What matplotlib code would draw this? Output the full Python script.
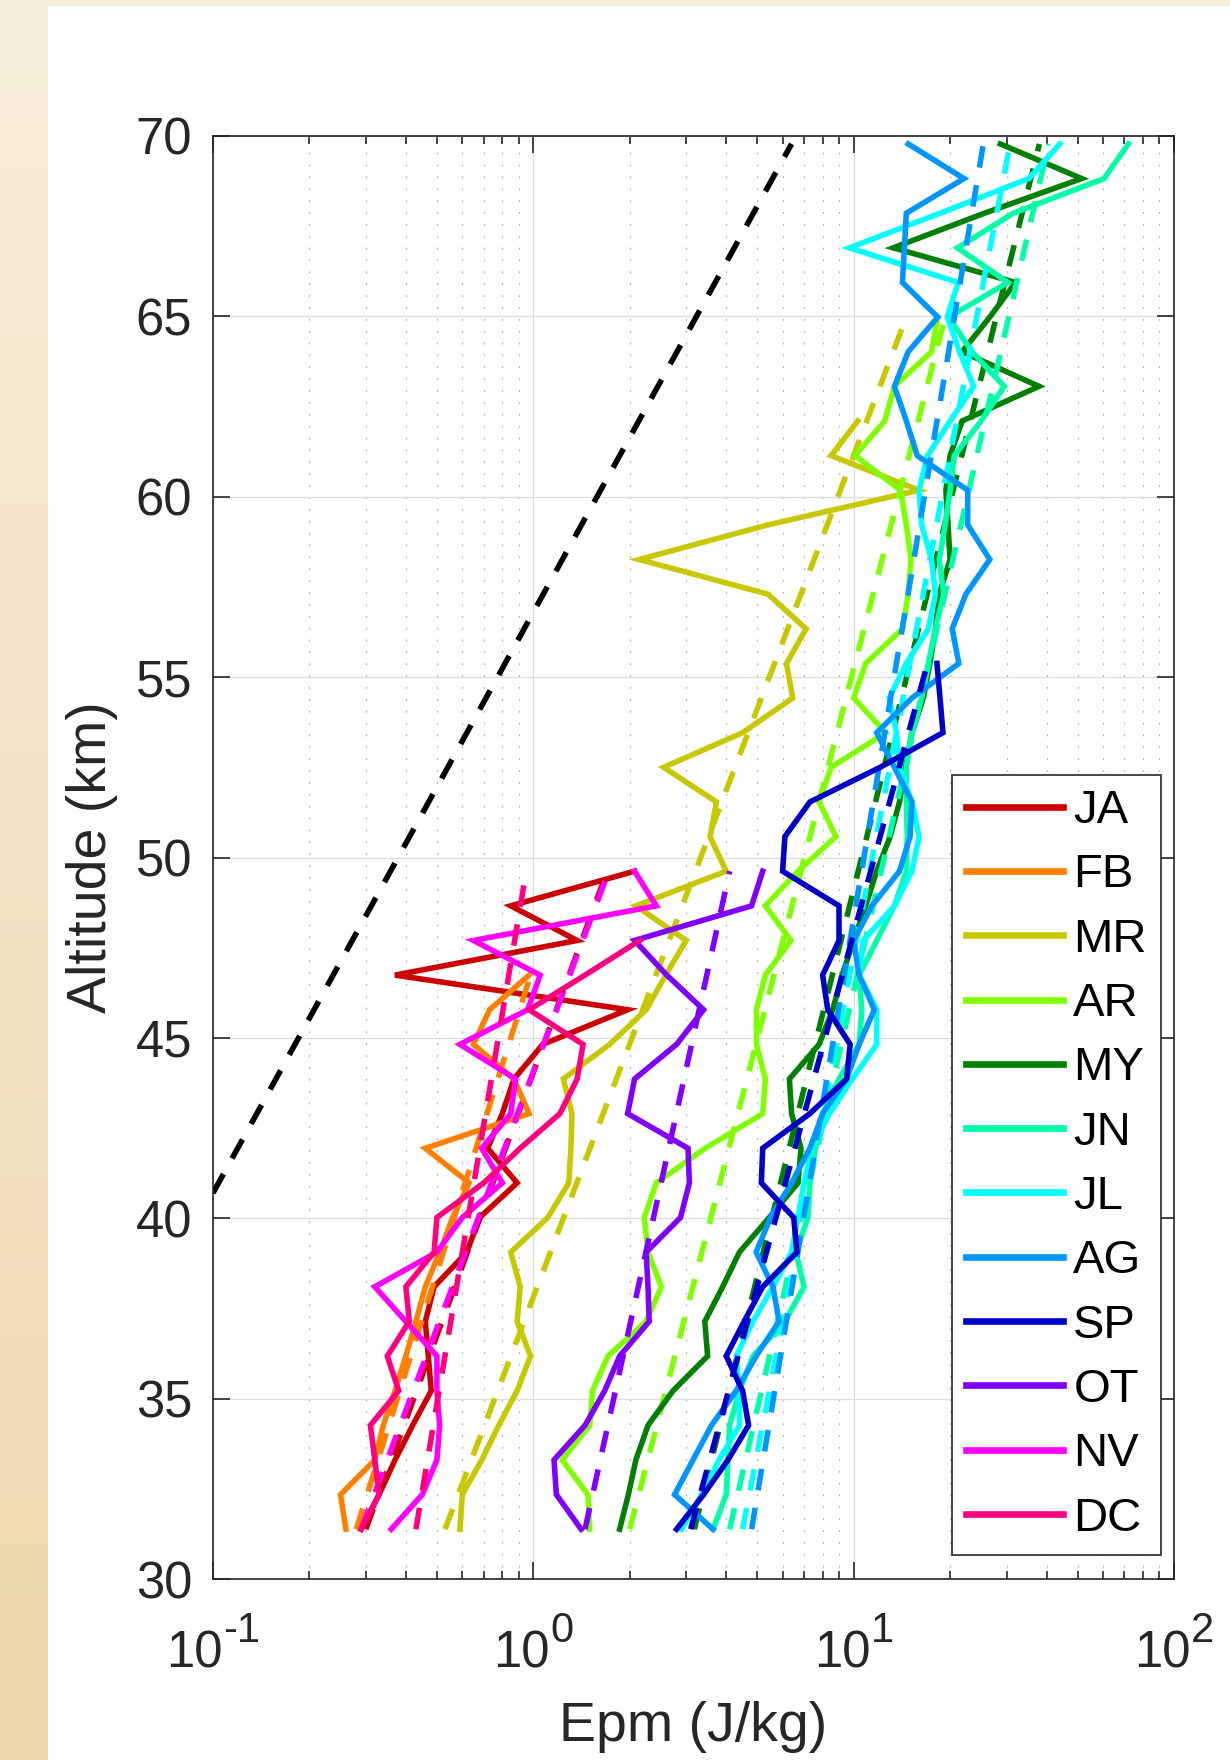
import numpy as np
import matplotlib
matplotlib.use("Agg")
import matplotlib.pyplot as plt
import matplotlib.transforms as mtransforms
from matplotlib.colors import LinearSegmentedColormap
from matplotlib.patches import Rectangle
from matplotlib.ticker import LogLocator, NullFormatter

plt.rcParams['font.family'] = ['Liberation Sans', 'DejaVu Sans']

# altitude levels of the monthly profiles (km)
alt_km = [31.38, 32.34, 33.30, 34.26, 35.22, 36.18, 37.14, 38.10, 39.06, 40.02,
          40.98, 41.94, 42.90, 43.86, 44.82, 45.78, 46.74, 47.70, 48.66, 49.62,
          50.58, 51.54, 52.50, 53.46, 54.42, 55.38, 56.34, 57.30, 58.26, 59.22,
          60.18, 61.14, 62.10, 63.06, 64.02, 64.98, 65.94, 66.90, 67.86, 68.82,
          69.78]

# monthly mean Epm profiles (J/kg), from the lowest level upwards
ja_epm = [0.29, 0.33, 0.37, 0.42, 0.48, 0.47, 0.46, 0.49, 0.62, 0.68, 0.89, 0.72,
          0.80, 0.87, 1.07, 1.97, 0.37, 1.37, 0.85, 2.07]
fb_epm = [0.26, 0.25, 0.32, 0.34, 0.37, 0.40, 0.43, 0.46, 0.51, 0.56, 0.63, 0.46,
          0.97, 0.87, 0.65, 0.73, 0.97]
mr_epm = [0.59, 0.60, 0.69, 0.78, 0.89, 0.98, 0.89, 0.91, 0.85, 1.11, 1.29, 1.31,
          1.32, 1.24, 1.73, 2.25, 2.59, 3.00, 2.09, 4.0, 3.56, 3.73, 2.55, 4.5,
          6.45, 6.17, 7.1, 5.4, 2.14, 5.4, 16.0, 8.5, 10.3]
ar_epm = [1.50, 1.48, 1.23, 1.50, 1.53, 1.71, 2.25, 2.51, 2.28, 2.22, 2.42, 3.44,
          5.2, 5.3, 4.97, 4.97, 5.3, 6.37, 5.3, 6.7, 8.8, 7.8, 8.5, 12.6, 10.0,
          10.9, 14.2, 14.8, 15.1, 14.6, 14.0, 10.1, 12.5, 13.4, 17.5, 18.3]
my_epm = [1.86, 1.98, 2.09, 2.28, 2.73, 3.5, 3.43, 3.9, 4.4, 5.45, 6.7, 6.85, 6.4,
          6.3, 7.8, 8.6, 9.2, 10.0, 10.9, 11.8, 13.0, 13.9, 14.5, 15.2, 16.5, 17.3,
          18.0, 18.5, 20.0, 19.7, 19.4, 20.0, 21.8, 37.9, 21.8, 26.6, 32.0, 13.3,
          25.6, 51.5, 28.7]
jn_epm = [3.64, 4.0, 4.05, 4.1, 4.4, 4.85, 6.1, 7.0, 6.6, 7.2, 7.3, 7.6, 8.0, 9.0,
          10.4, 10.6, 10.4, 11.8, 13.4, 14.6, 14.7, 14.6, 14.6, 15.2, 16.3, 17.1,
          18.0, 19.1, 18.5, 19.3, 20.0, 20.6, 25.0, 29.5, 23.4, 19.8, 30.3, 21.1,
          31.5, 60.5, 72.0]
jl_epm = [2.9, 3.35, 3.8, 4.4, 4.4, 4.3, 4.85, 5.6, 6.4, 6.7, 7.0, 7.4, 8.4, 9.9,
          11.8, 11.8, 10.4, 10.7, 13.4, 15.2, 16.0, 15.2, 13.9, 13.6, 12.9, 14.6,
          17.1, 18.0, 17.5, 16.3, 16.0, 17.0, 20.0, 23.7, 21.4, 19.6, 21.2, 9.7,
          18.6, 35.2, 44.0]
ag_epm = [3.64, 2.76, 3.15, 3.6, 4.3, 4.96, 5.85, 5.6, 4.96, 5.5, 6.4, 7.3, 8.0,
          9.5, 10.4, 11.6, 10.4, 10.0, 11.4, 13.9, 15.0, 15.2, 13.4, 11.8, 15.2,
          21.3, 20.3, 22.4, 26.6, 22.7, 22.7, 15.8, 14.6, 13.4, 14.8, 18.3, 14.2,
          14.4, 14.6, 22.1, 14.8]
sp_epm = [2.8, 3.4, 4.05, 4.7, 4.5, 4.0, 4.55, 5.2, 6.65, 6.5, 5.15, 5.2, 7.3, 9.5,
          9.75, 8.3, 8.0, 9.0, 9.0, 6.0, 6.1, 7.3, 12.1, 19.0, 18.6, 18.2]
ot_epm = [1.41, 1.18, 1.16, 1.45, 1.67, 1.86, 2.30, 2.28, 2.25, 2.88, 3.07, 3.04,
          1.97, 2.07, 2.8, 3.4, 2.61, 2.07, 4.8, 5.2]
nv_epm = [0.36, 0.45, 0.50, 0.51, 0.50, 0.50, 0.40, 0.32, 0.50, 0.60, 0.80, 0.69,
          0.85, 0.88, 0.59, 0.96, 1.05, 0.65, 2.42, 2.07]
dc_epm = [0.29, 0.33, 0.32, 0.31, 0.38, 0.35, 0.41, 0.40, 0.49, 0.50, 0.70, 0.91,
          1.21, 1.37, 1.43, 0.97, 1.45, 2.15]

months = ['JA', 'FB', 'MR', 'AR', 'MY', 'JN', 'JL', 'AG', 'SP', 'OT', 'NV', 'DC']
profiles = [ja_epm, fb_epm, mr_epm, ar_epm, my_epm, jn_epm, jl_epm, ag_epm,
            sp_epm, ot_epm, nv_epm, dc_epm]
colors = ['#cc0000', '#ff8000', '#c8c800', '#80ff00', '#008000', '#00ffa8',
          '#00ffff', '#0096ff', '#0000c8', '#8000ff', '#ff00ff', '#ff0080']

# exponential fits: Epm at the lowest level and at the top of each fit
fit_low = [0.30, 0.28, 0.53, 2.0, 3.18, 4.1, 4.5, 4.8, 3.1, 1.45, 0.29, 0.43]
fit_high = [1.70, 0.98, 14.6, 19.3, 38.0, 40.6, 30.8, 25.4, 17.0, 4.1, 1.72, 0.95]
fit_top_alt = [49.62, 46.74, 64.98, 64.98, 69.78, 69.78, 69.78, 69.78, 55.38,
               49.62, 49.62, 49.62]

# non-dissipative growth reference
ref_epm = [0.1, 6.4]
ref_alt = [40.70, 69.78]

# x tick decades and their exponent labels
x_decades = [0.1, 1, 10, 100]
x_exponents = ['-1', '0', '1', '2']

W, H = 1230, 1760
fig = plt.figure(figsize=(W / 100, H / 100), dpi=100)
fig.patch.set_facecolor('white')

# beige slide border on the left and top
bg = fig.add_axes([0, 0, 48 / W, 1])
grad = np.linspace(0, 1, 256).reshape(-1, 1)
bg.imshow(grad, aspect='auto',
          cmap=LinearSegmentedColormap.from_list('beige', ['#f6eddb', '#eed8ac']))
bg.axis('off')
fig.add_artist(Rectangle((0, 1 - 5 / H), 1, 5 / H, transform=fig.transFigure,
                         color='#f6eddb', zorder=0))

ax = fig.add_axes([213 / W, 181 / H, 961 / W, 1443 / H])
ax.set_xscale('log')

lw = 4.0
dash = (3.9, 3.2)
handles = []
for name, color, vals, lo, hi, top in zip(months, colors, profiles, fit_low,
                                          fit_high, fit_top_alt):
    h, = ax.plot(vals, alt_km[:len(vals)], color=color, lw=lw, label=name,
                 solid_joinstyle='miter')
    handles.append(h)
    ax.plot([lo, hi], [alt_km[0], top], color=color, lw=lw, dashes=dash)

ax.plot(ref_epm, ref_alt, color='black', lw=lw, dashes=dash)

ax.set_xlim(0.1, 100)
ax.set_ylim(30, 70)
ax.set_yticks(range(30, 71, 5))
ax.xaxis.set_major_locator(LogLocator(base=10, numticks=10))
ax.xaxis.set_minor_locator(LogLocator(base=10, subs=np.arange(2, 10), numticks=20))
ax.xaxis.set_minor_formatter(NullFormatter())

ax.grid(True, which='major', color='#dcdcdc', lw=0.9)
ax.grid(True, which='minor', axis='x', color='#b4b4b4', lw=0.9,
        linestyle=(0, (1.5, 8)))
ax.set_axisbelow(True)

ax.tick_params(which='both', direction='in', top=True, right=True,
               color='#262626', labelcolor='#262626')
ax.tick_params(which='major', length=12, width=1.2, labelsize=36.5)
ax.tick_params(which='minor', length=6, width=1.2)
ax.tick_params(axis='y', pad=15)
ax.tick_params(axis='x', labelbottom=False)
for s in ax.spines.values():
    s.set_color('#262626')
    s.set_linewidth(1.2)

# x tick labels drawn as base "10" plus a raised exponent
base_size, exp_size = 36.5, 30
digit_w = 0.556
hyphen_w = 0.333
blend = mtransforms.blended_transform_factory(ax.transData, fig.transFigure)
base_w = 2 * digit_w * base_size
for xv, ex in zip(x_decades, x_exponents):
    exp_w = sum(hyphen_w if c == '-' else digit_w for c in ex) * exp_size
    shift = (base_w - exp_w) / 2
    t_base = mtransforms.offset_copy(blend, fig=fig, x=shift, units='points')
    t_exp = mtransforms.offset_copy(blend, fig=fig, x=shift + 0.5, units='points')
    ax.text(xv, 1 - 1667 / H, '10', transform=t_base, ha='right', va='baseline',
            fontsize=base_size, color='#262626', clip_on=False)
    ax.text(xv, 1 - 1642 / H, ex, transform=t_exp, ha='left', va='baseline',
            fontsize=exp_size, color='#262626', clip_on=False)

fig.text(92 / W, 1 - 857.5 / H, 'Altitude (km)', rotation=90, ha='center',
         va='center', fontsize=40, color='#262626')
fig.text(693.5 / W, 1 - 1727 / H, 'Epm (J/kg)', ha='center', va='center',
         fontsize=40, color='#262626')

leg = ax.legend(handles=handles, loc='upper left',
                bbox_to_anchor=(952 / W, 1 - 775 / H),
                bbox_transform=fig.transFigure, borderaxespad=0,
                fontsize=34, handlelength=2.05, handletextpad=0.22,
                labelspacing=0.43, borderpad=0.3, fancybox=False,
                framealpha=1, edgecolor='#262626')
leg.get_frame().set_linewidth(1.2)
for line in leg.get_lines():
    line.set_linewidth(4.8)

fig.savefig('out.png', dpi=100)
